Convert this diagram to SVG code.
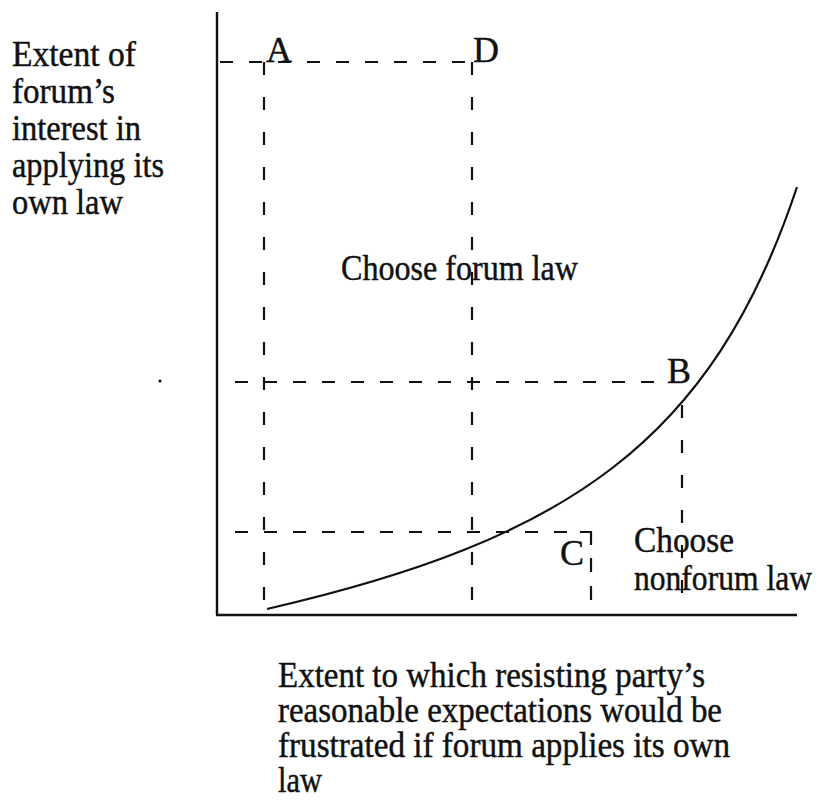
<svg xmlns="http://www.w3.org/2000/svg" width="822" height="806" viewBox="0 0 822 806">
<style>
.t{font-family:"Liberation Serif","Times New Roman",serif;font-size:36px;fill:#111;stroke:#111;stroke-width:0.45}
.ax{stroke:#111;stroke-width:2.4;fill:none}
.dh{stroke:#111;stroke-width:2.2;fill:none;stroke-dasharray:13 16}
.dv{stroke:#111;stroke-width:2.2;fill:none;stroke-dasharray:13 22}
.cv{stroke:#111;stroke-width:2.2;fill:none}
</style>
<rect width="822" height="806" fill="#fff"/>
<g id="axes">
<line class="ax" x1="217" y1="12" x2="217" y2="615"/>
<line class="ax" x1="216" y1="615" x2="797" y2="615"/>
</g>
<g id="connectors">
<line class="dh" x1="220" y1="62" x2="472" y2="62"/>
<line class="dv" x1="264" y1="62" x2="264" y2="606"/>
<line class="dv" x1="472" y1="62" x2="472" y2="612"/>
<line class="dh" x1="235" y1="382" x2="660" y2="382"/>
<line class="dv" x1="682" y1="405" x2="682" y2="614"/>
<line class="dh" x1="235" y1="532" x2="591" y2="532"/>
<polyline class="cv" points="580,532 591,532 591,545"/>
<line class="dv" x1="591" y1="558" x2="591" y2="614" style="stroke-dasharray:14 14"/>
<path id="curve" class="cv" d="M267,609 C567,540 712,442 797,187"/>
</g>
<g id="point-A"><text class="t" x="266" y="62" font-size="34">A</text></g>
<g id="point-D"><text class="t" x="473" y="62" font-size="34">D</text></g>
<g id="point-B"><text class="t" x="667" y="383" font-size="32">B</text></g>
<g id="point-C"><text class="t" x="560" y="565" font-size="32">C</text></g>
<g id="y-label">
<text class="t" x="12" y="66" textLength="124" lengthAdjust="spacingAndGlyphs">Extent of</text>
<text class="t" x="12" y="103" textLength="103" lengthAdjust="spacingAndGlyphs">forum’s</text>
<text class="t" x="12" y="140" textLength="129" lengthAdjust="spacingAndGlyphs">interest in</text>
<text class="t" x="12" y="177" textLength="152" lengthAdjust="spacingAndGlyphs">applying its</text>
<text class="t" x="12" y="214" textLength="111" lengthAdjust="spacingAndGlyphs">own law</text>
</g>
<g id="region-forum">
<text class="t" x="341" y="280" textLength="237" lengthAdjust="spacingAndGlyphs">Choose forum law</text>
</g>
<g id="region-nonforum">
<text class="t" x="634" y="552" font-size="35" textLength="100" lengthAdjust="spacingAndGlyphs">Choose</text>
<text class="t" x="634" y="590" font-size="35" textLength="178" lengthAdjust="spacingAndGlyphs">nonforum law</text>
</g>
<g id="x-label">
<text class="t" x="278" y="687" font-size="34" textLength="427" lengthAdjust="spacingAndGlyphs">Extent to which resisting party’s</text>
<text class="t" x="278" y="722" font-size="34" textLength="444" lengthAdjust="spacingAndGlyphs">reasonable expectations would be</text>
<text class="t" x="278" y="757" font-size="34" textLength="452" lengthAdjust="spacingAndGlyphs">frustrated if forum applies its own</text>
<text class="t" x="278" y="792" font-size="34" textLength="44" lengthAdjust="spacingAndGlyphs">law</text>
</g>
<circle cx="160" cy="381" r="1.6" fill="#111"/>
</svg>
